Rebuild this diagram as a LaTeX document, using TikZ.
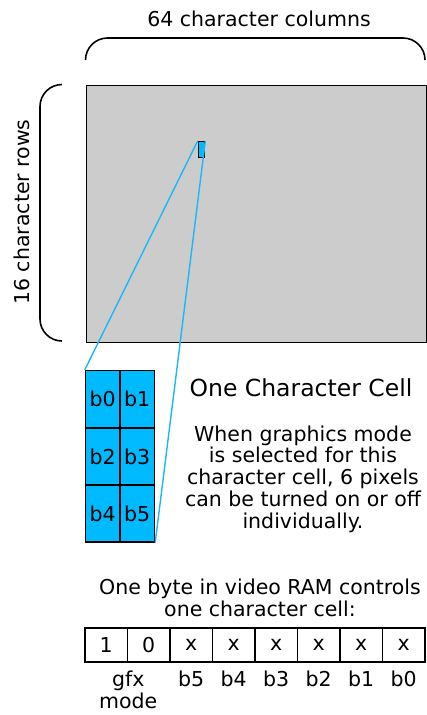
\documentclass[tikz,border=0pt]{standalone}
\usepackage{fontspec}
\setmainfont{DejaVu Sans}
\definecolor{cellblue}{HTML}{00BAFF}
\definecolor{linkblue}{HTML}{1AB8F5}
\definecolor{screengray}{HTML}{CCCCCC}
\definecolor{ink}{HTML}{000000}
\begin{document}
\begin{tikzpicture}[x=1pt,y=-1pt,
  outline/.style={draw=ink,line width=1.6pt},
  brace/.style={draw=ink,line width=1.6pt,rounded corners=22pt},
  link/.style={draw=linkblue,line width=1.4pt},
  lbl/.style={inner sep=0pt,font=\fontsize{20.5}{21.7}\selectfont,text=ink},
  biglbl/.style={inner sep=0pt,font=\fontsize{23.5}{26}\selectfont,text=ink},
  para/.style={inner sep=0pt,font=\fontsize{20.5}{21.7}\selectfont,align=center,text=ink},
  pix/.style={draw=ink,line width=1.4pt,fill=cellblue,minimum width=34.5pt,minimum height=57pt,inner sep=0pt,font=\fontsize{20.5}{20}\selectfont},
  bit/.style={draw=ink,line width=1.4pt,minimum width=42.5pt,minimum height=34pt,inner sep=0pt,font=\fontsize{20.5}{20}\selectfont}]
\useasboundingbox (0,0) rectangle (426,715);
% top brace
\draw[brace] (85.5,60) -- (85.5,38) -- (425,38) -- (425,60);
\node[lbl] (cols) at (259,19) {64 character columns};
% screen
\node[outline,fill=screengray,minimum width=340pt,minimum height=257pt,inner sep=0pt,anchor=north west] (screen) at (85.5,84.5) {};
% left brace
\draw[brace] (62,84.5) -- (40,84.5) -- (40,341) -- (62,341);
\node[lbl,rotate=90] (rows) at (22,212) {16 character rows};
% small cell
\node[draw=ink,line width=1.1pt,fill=cellblue,minimum width=6.5pt,minimum height=16pt,inner sep=0pt] (small) at (201.5,149.5) {};
% big cell
\node[pix] (p0) at (102.75,399) {b0};
\node[pix] (p1) at (137.25,399) {b1};
\node[pix] (p2) at (102.75,456.5) {b2};
\node[pix] (p3) at (137.25,456.5) {b3};
\node[pix] (p4) at (102.75,513.5) {b4};
\node[pix] (p5) at (137.25,513.5) {b5};
\draw[link] (small.north west) -- (p0.north west);
\draw[link] (small.north east) -- (p5.south east);
% text
\node[biglbl] (title) at (301,388) {One Character Cell};
\node[para] (desc) at (303,479) {When graphics mode\\is selected for this\\character cell, 6 pixels\\can be turned on or off\\individually.};
\node[para] (byte) at (260,597.5) {One byte in video RAM controls\\one character cell:};
% byte table
\foreach \t [count=\i from 0] in {1,0,x,x,x,x,x,x} {
  \node[bit] (c\i) at ({106.25+42.5*\i},645) {\t};
}
\node[para,anchor=north] (gfx) at (c0.south east) [yshift=-8pt] {gfx\\mode};
\foreach \t [count=\i from 2] in {b5,b4,b3,b2,b1,b0} {
  \node[lbl,anchor=north] (l\i) at (c\i.south) [yshift=-8pt] {\t};
}
\end{tikzpicture}
\end{document}
